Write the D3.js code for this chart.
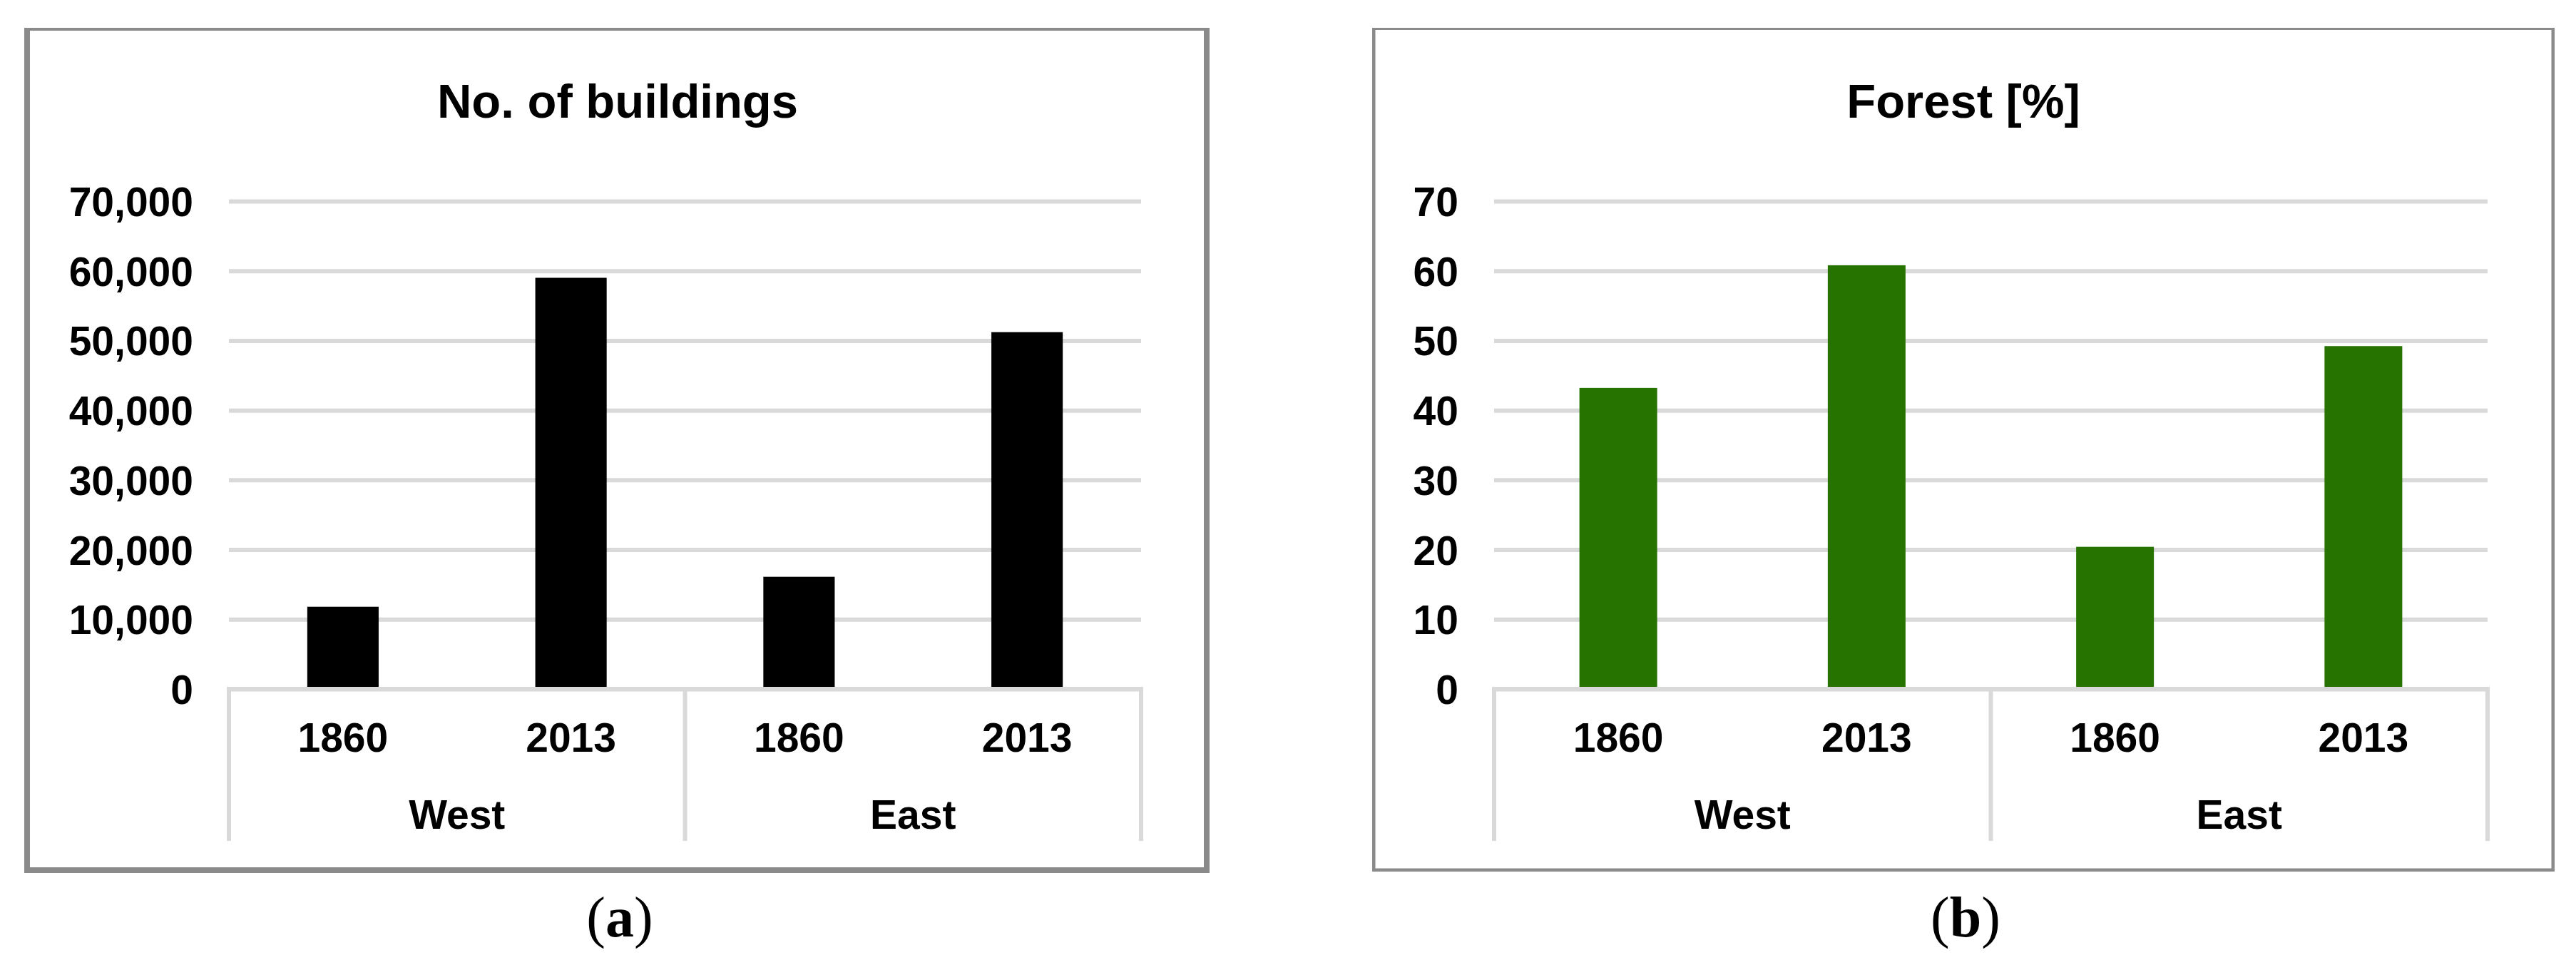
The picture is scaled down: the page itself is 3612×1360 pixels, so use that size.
<!DOCTYPE html>
<html>
<head>
<meta charset="utf-8">
<script src="https://cdn.jsdelivr.net/npm/d3@7/dist/d3.min.js"></script>
<style>
  html, body { margin: 0; padding: 0; background: #fff; }
  svg { display: block; }
  .tick text, .catLabel, .title { font-family: "Liberation Sans", Arial, sans-serif; font-weight: bold; fill: #000; }
  .caption { font-family: "Liberation Serif", "Times New Roman", serif; fill: #000; }
</style>
</head>
<body>
<div id="chart"></div>
<script>
// Data
var groups = ["West", "East"];
var years = ["1860", "2013"];
var buildings = [11800, 59000, 16100, 51200];   // West 1860, West 2013, East 1860, East 2013
var forest = [43.2, 60.8, 20.4, 49.2];          // percent, same order
var buildingTicks = [0, 10000, 20000, 30000, 40000, 50000, 60000, 70000];
var forestTicks = [0, 10, 20, 30, 40, 50, 60, 70];

var W = 3612, H = 1360;

// categories: one per group/year pair
var cats = [];
groups.forEach(function(g){ years.forEach(function(y){ cats.push({group: g, year: y, key: g + "-" + y}); }); });

var panels = [
  { title: "No. of buildings", caption: "a", values: buildings, ticks: buildingTicks, fmt: d3.format(","),
    color: "#000000", x0: 321, x1: 1600,
    frame: {left: 34, top: 39, right: 1696, bottom: 1224, wTop: 4, wSide: 8},
    cx: 866, capX: 869 },
  { title: "Forest [%]", caption: "b", values: forest, ticks: forestTicks, fmt: d3.format("d"),
    color: "#267300", x0: 2095, x1: 3488,
    frame: {left: 1924, top: 39, right: 3582, bottom: 1222, wTop: 3, wSide: 4.5},
    cx: 2753, capX: 2756 }
];

var yTop = 282, yBottom = 966, sepBottom = 1179;

var svg = d3.select("#chart").append("svg")
  .attr("width", W)
  .attr("height", H);

panels.forEach(function(p) {
  var g = svg.append("g");

  //Frame (thin grey border, heavier on sides and bottom)
  var f = p.frame;
  g.append("rect").attr("x", f.left).attr("y", f.top).attr("width", f.right - f.left).attr("height", f.wTop).attr("fill", "#8a8a8a");
  g.append("rect").attr("x", f.left).attr("y", f.top).attr("width", f.wSide).attr("height", f.bottom - f.top).attr("fill", "#8a8a8a");
  g.append("rect").attr("x", f.right - f.wSide).attr("y", f.top).attr("width", f.wSide).attr("height", f.bottom - f.top).attr("fill", "#8a8a8a");
  g.append("rect").attr("x", f.left).attr("y", f.bottom - f.wSide).attr("width", f.right - f.left).attr("height", f.wSide).attr("fill", "#8a8a8a");

  //Title
  g.append("text")
    .attr("class", "title")
    .attr("x", p.cx)
    .attr("y", 165)
    .attr("text-anchor", "middle")
    .style("font-size", "67px")
    .text(p.title);

  var x = d3.scaleBand()
    .domain(cats.map(function(d){ return d.key; }))
    .range([p.x0, p.x1])
    .paddingInner(0.687)
    .paddingOuter(0.687 / 2);

  var y = d3.scaleLinear()
    .domain([0, d3.max(p.ticks)])
    .range([yBottom, yTop]);

  //Gridlines + tick labels
  var yAxis = d3.axisLeft(y)
    .tickValues(p.ticks)
    .tickFormat(p.fmt)
    .tickSizeInner(-(p.x1 - p.x0))
    .tickSizeOuter(0)
    .tickPadding(50);

  var ag = g.append("g")
    .attr("transform", "translate(" + p.x0 + ",0)")
    .call(yAxis);
  ag.select(".domain").remove();
  ag.selectAll(".tick line").attr("stroke", "#d9d9d9").attr("stroke-width", 6);
  ag.selectAll(".tick text")
    .attr("dy", "0.36em")
    .style("font-size", "57px");
  ag.attr("font-family", null).attr("font-size", null);

  //Bars
  g.selectAll(".bar")
    .data(p.values)
    .enter().append("rect")
    .attr("class", "bar")
    .attr("x", function(d, i){ return x(cats[i].key); })
    .attr("width", x.bandwidth())
    .attr("y", function(d){ return y(d); })
    .attr("height", function(d){ return y(0) - y(d); })
    .attr("fill", p.color);

  //Category axis: base line and group separators
  g.append("line")
    .attr("x1", p.x0).attr("x2", p.x1)
    .attr("y1", y(0)).attr("y2", y(0))
    .attr("stroke", "#d9d9d9").attr("stroke-width", 6);

  var groupScale = d3.scaleBand().domain(groups).range([p.x0, p.x1]);
  var seps = groups.map(function(gr){ return groupScale(gr); }).concat([p.x1]);
  g.selectAll(".sep")
    .data(seps)
    .enter().append("line")
    .attr("class", "sep")
    .attr("x1", function(d){ return d; }).attr("x2", function(d){ return d; })
    .attr("y1", y(0) - 3).attr("y2", sepBottom)
    .attr("stroke", "#d9d9d9").attr("stroke-width", 6);

  g.selectAll(".yearLabel")
    .data(cats)
    .enter().append("text")
    .attr("class", "catLabel")
    .attr("x", function(d){ return x(d.key) + x.bandwidth() / 2; })
    .attr("y", 1054)
    .attr("text-anchor", "middle")
    .style("font-size", "57px")
    .text(function(d){ return d.year; });

  g.selectAll(".groupLabel")
    .data(groups)
    .enter().append("text")
    .attr("class", "catLabel")
    .attr("x", function(d){ return groupScale(d) + groupScale.bandwidth() / 2; })
    .attr("y", 1162)
    .attr("text-anchor", "middle")
    .style("font-size", "57px")
    .text(function(d){ return d; });

  //Caption (a)/(b)
  var cap = g.append("text")
    .attr("class", "caption")
    .attr("x", p.capX)
    .attr("y", 1313)
    .attr("text-anchor", "middle")
    .style("font-size", "80px");
  cap.append("tspan").text("(");
  cap.append("tspan").style("font-weight", "bold").text(p.caption);
  cap.append("tspan").text(")");
});
</script>
</body>
</html>
